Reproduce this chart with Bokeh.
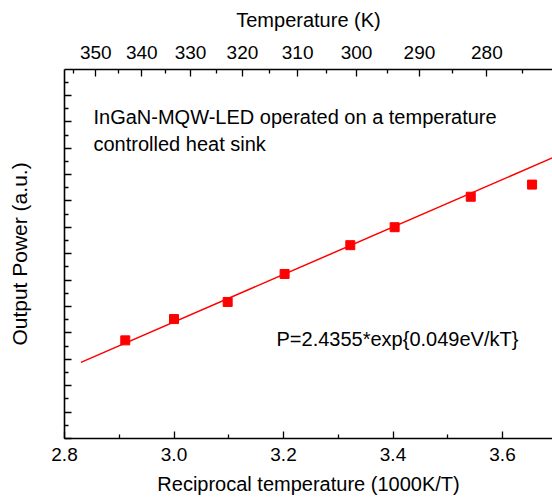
import math
from bokeh.plotting import figure
from bokeh.models import (Range1d, FixedTicker, LinearAxis, Label,
                          CustomJSTickFormatter, NumeralTickFormatter)
from bokeh.embed import file_html
from bokeh.resources import INLINE

# Measured points: reciprocal temperature (1000K/T) and ln(output power, a.u.)
recip_T = [2.911, 3.000, 3.098, 3.202, 3.322, 3.403, 3.542, 3.654]
ln_power = [2.552, 2.603, 2.644, 2.711, 2.780, 2.823, 2.896, 2.925]

# Fit P = 2.4355*exp(0.049 eV / kT)
fit_A = 2.4355
fit_Ea = 0.049
k_B = 8.617e-5
fit_x = [2.83, 3.70]
fit_y = [math.log(fit_A) + fit_Ea / k_B * x / 1000.0 for x in fit_x]

bottom_major = [2.8, 3.0, 3.2, 3.4, 3.6]
bottom_minor = [2.9, 3.1, 3.3, 3.5, 3.7]
top_major_T = [350, 340, 330, 320, 310, 300, 290, 280]
top_minor_T = [355, 345, 335, 325, 315, 305, 295, 285, 275]

x_start, x_end = 2.8, 3.6913
y_start, y_end = 2.317, 3.2007
y_step = 0.0632
y_major = [y_start + k * y_step for k in range(15)]
y_minor = [y_start + (k + 0.5) * y_step for k in range(15)]

FONT = "Liberation Sans"

p = figure(width=552, height=502, x_range=Range1d(x_start, x_end),
           y_range=Range1d(y_start, y_end), output_backend="svg",
           toolbar_location=None, x_axis_location=None, y_axis_location=None,
           min_border_left=64, min_border_right=0, min_border_top=69,
           min_border_bottom=64)
p.outline_line_color = None
p.xgrid.visible = False
p.ygrid.visible = False
p.background_fill_color = "white"
p.border_fill_color = "white"


def style(ax):
    ax.axis_line_color = "black"
    ax.axis_line_width = 1.6
    ax.major_tick_line_color = "black"
    ax.minor_tick_line_color = "black"
    ax.major_tick_line_width = 1.3
    ax.minor_tick_line_width = 1.3
    ax.major_tick_in = 7
    ax.major_tick_out = 0
    ax.minor_tick_in = 4
    ax.minor_tick_out = 0
    ax.major_label_text_font = FONT
    ax.major_label_text_font_size = "19px"
    ax.major_label_text_color = "black"
    ax.axis_label_text_font = FONT
    ax.axis_label_text_font_size = "20px"
    ax.axis_label_text_font_style = "normal"
    ax.axis_label_text_color = "black"


bottom = LinearAxis(ticker=FixedTicker(ticks=bottom_major, minor_ticks=bottom_minor),
                    formatter=NumeralTickFormatter(format="0.0"),
                    axis_label="Reciprocal temperature (1000K/T)")
style(bottom)
bottom.major_label_standoff = 9
bottom.axis_label_standoff = 9
p.add_layout(bottom, "below")

top = LinearAxis(ticker=FixedTicker(ticks=[1000.0 / t for t in top_major_T],
                                    minor_ticks=[1000.0 / t for t in top_minor_T]),
                 formatter=CustomJSTickFormatter(code="return (1000/tick).toFixed(0);"),
                 axis_label="Temperature (K)")
style(top)
top.major_label_standoff = 11
top.axis_label_standoff = 12
p.add_layout(top, "above")

left = LinearAxis(ticker=FixedTicker(ticks=y_major, minor_ticks=y_minor),
                  formatter=CustomJSTickFormatter(code="return '';"),
                  axis_label="Output Power (a.u.)")
style(left)
left.major_label_text_font_size = "0px"
left.major_label_standoff = 0
left.axis_label_standoff = 34
left.axis_label_text_font_size = "21px"
p.add_layout(left, "left")

p.line(fit_x, fit_y, line_color="#ff0000", line_width=1.5)
p.scatter(recip_T, ln_power, marker="square", size=9,
          fill_color="#ff0000", line_color="#ff0000")

for txt, yy in [("InGaN-MQW-LED operated on a temperature", 322),
                ("controlled heat sink", 295)]:
    p.add_layout(Label(x=29, y=yy, x_units="screen", y_units="screen", text=txt,
                       text_font=FONT, text_font_size="20px", text_color="black",
                       text_baseline="middle"))

p.add_layout(Label(x=212, y=100, x_units="screen", y_units="screen",
                   text="P=2.4355*exp{0.049eV/kT}", text_font=FONT,
                   text_font_size="20px", text_color="black",
                   text_baseline="middle"))

open("out.html", "w").write(file_html(p, INLINE))
